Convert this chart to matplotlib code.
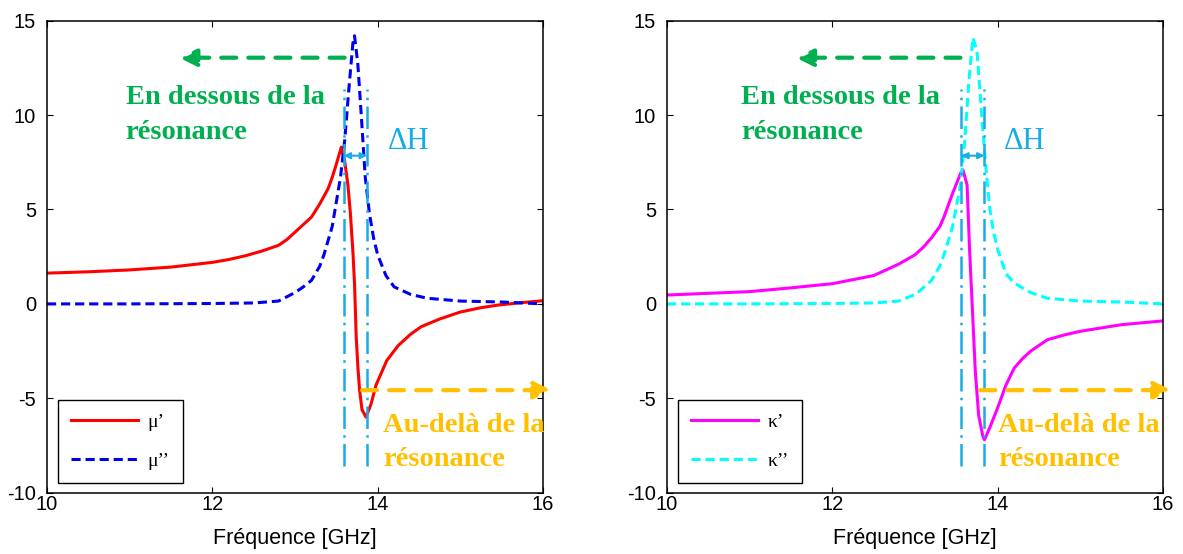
import numpy as np
import matplotlib
matplotlib.use('Agg')
import matplotlib.pyplot as plt

f_mu1 = [10, 10.5, 11, 11.5, 12, 12.2, 12.4, 12.6, 12.8, 12.9, 13.0, 13.1, 13.2, 13.3, 13.4, 13.45,
         13.5, 13.56, 13.6, 13.64, 13.67, 13.7, 13.72, 13.74, 13.76, 13.78, 13.81, 13.86, 13.92,
         13.98, 14.05, 14.11, 14.18, 14.25, 14.4, 14.53, 14.75, 15.0, 15.25, 15.46, 15.7, 16.0]
mu1 = [1.63, 1.7, 1.8, 1.95, 2.2, 2.35, 2.55, 2.8, 3.1, 3.4, 3.8, 4.2, 4.6, 5.3, 6.1, 6.7,
       7.4, 8.3, 7.6, 6.3, 4.8, 2.8, 1.1, -1.7, -3.3, -4.5, -5.6, -6.0, -5.3,
       -4.3, -3.6, -3.0, -2.6, -2.2, -1.6, -1.2, -0.8, -0.43, -0.2, -0.06, 0.05, 0.17]

f_mu2 = [10, 11, 12, 12.5, 12.8, 13.0, 13.1, 13.2, 13.3, 13.35, 13.45, 13.55, 13.6, 13.65, 13.7,
         13.72, 13.76, 13.8, 13.85, 13.9, 13.95, 14.0, 14.1, 14.2, 14.4, 14.6, 15.0, 15.5, 16.0]
mu2 = [0, 0, 0.02, 0.05, 0.15, 0.6, 0.9, 1.25, 2.0, 2.6, 4.1, 6.7, 8.6, 11.3, 13.8,
       14.2, 12.7, 10.1, 6.7, 4.8, 3.5, 2.6, 1.5, 0.9, 0.5, 0.3, 0.15, 0.1, 0.0]

f_k1 = [10, 11, 11.5, 12, 12.5, 12.8, 13.0, 13.1, 13.2, 13.3, 13.35, 13.45, 13.55, 13.58, 13.63,
        13.66, 13.7, 13.73, 13.77, 13.82, 13.84, 13.9, 14.0, 14.1, 14.2, 14.3, 14.4, 14.6, 14.8,
        15.0, 15.5, 16.0]
k1 = [0.47, 0.65, 0.85, 1.07, 1.5, 2.1, 2.6, 3.0, 3.5, 4.1, 4.6, 5.8, 6.9, 7.1, 6.3,
      2.9, -0.8, -3.6, -5.9, -7.0, -7.2, -6.6, -5.5, -4.3, -3.4, -2.9, -2.5, -1.9, -1.65,
      -1.45, -1.1, -0.9]

f_k2 = [10, 11, 12, 12.5, 12.8, 13.0, 13.1, 13.2, 13.3, 13.35, 13.45, 13.55, 13.6, 13.65, 13.7,
        13.75, 13.8, 13.85, 13.9, 13.95, 14.0, 14.1, 14.2, 14.4, 14.6, 15.0, 15.5, 16.0]
k2 = [0, 0, 0.02, 0.05, 0.15, 0.5, 0.85, 1.25, 2.0, 2.6, 4.0, 6.3, 8.5, 11.7, 14.1,
      13.4, 10.4, 7.6, 5.2, 3.8, 2.9, 1.6, 1.1, 0.6, 0.3, 0.15, 0.1, 0.0]

panels = [
    dict(f1=f_mu1, y1=mu1, f2=f_mu2, y2=mu2, c1='#FF0000', c2='#0000EE',
         lab1='\u03bc\u2019', lab2='\u03bc\u2019\u2019', vl=(13.59, 13.87),
         dh_x=14.37, green=(13.6, 11.6), txt_g=10.95, orange=(13.81, 16.1), txt_o=14.07),
    dict(f1=f_k1, y1=k1, f2=f_k2, y2=k2, c1='#FF00FF', c2='#00FFFF',
         lab1='\u03ba\u2019', lab2='\u03ba\u2019\u2019', vl=(13.56, 13.84),
         dh_x=14.33, green=(13.55, 11.56), txt_g=10.9, orange=(13.79, 16.1), txt_o=14.01),
]

blue_l = '#1AACE6'
green = '#00B050'
orange = '#FFC000'
serif = 'Liberation Serif'

plt.rcParams['font.family'] = 'Liberation Sans'
plt.rcParams['axes.unicode_minus'] = False
fig = plt.figure(figsize=(11.83, 5.54), dpi=100)
lefts = [47/1183, 667/1183]

for p, left in zip(panels, lefts):
    ax = fig.add_axes([left, 1 - 492.7/554, 496/1183, 472/554])
    l1, = ax.plot(p['f1'], p['y1'], color=p['c1'], lw=2.2, label=p['lab1'])
    l2, = ax.plot(p['f2'], p['y2'], color=p['c2'], lw=2.2, ls=(0, (3, 1.6)), label=p['lab2'])
    for xv in p['vl']:
        ax.plot([xv, xv], [-8.6, 11.4], color=blue_l, lw=1.8, ls=(0, (9, 2.5, 1, 2.5)))
    ax.annotate('', xy=(p['vl'][0], 7.85), xytext=(p['vl'][1], 7.85),
                arrowprops=dict(arrowstyle='<|-|>', color=blue_l, lw=1.5,
                                mutation_scale=9, shrinkA=0, shrinkB=0))
    ax.text(p['dh_x'], 8.6, '\u0394H', color=blue_l, fontsize=22, family=serif,
            ha='center', va='center')
    # below resonance
    ax.annotate('', xy=(p['green'][1], 13.04), xytext=(p['green'][0], 13.04),
                arrowprops=dict(arrowstyle='-|>', color=green, lw=3, ls=(0, (3.6, 2.9)),
                                mutation_scale=26, shrinkA=0, shrinkB=0))
    ax.text(p['txt_g'], 10.0, 'En dessous de la\nr\u00e9sonance', color=green, fontsize=20.5,
            family=serif, weight='bold', ha='left', va='center', linespacing=1.5)
    # above resonance
    ax.annotate('', xy=(p['orange'][1], -4.57), xytext=(p['orange'][0], -4.57),
                arrowprops=dict(arrowstyle='-|>', color=orange, lw=3, ls=(0, (3.6, 2.9)),
                                mutation_scale=26, shrinkA=0, shrinkB=0),
                annotation_clip=False)
    ax.text(p['txt_o'], -7.35, 'Au-del\u00e0 de la\nr\u00e9sonance', color=orange, fontsize=20.5,
            family=serif, weight='bold', ha='left', va='center', linespacing=1.5)

    ax.set_xlim(10, 16)
    ax.set_ylim(-10, 15)
    ax.set_xticks([10, 12, 14, 16])
    ax.set_yticks([-10, -5, 0, 5, 10, 15])
    ax.tick_params(direction='in', top=True, right=True, labelsize=14.5, length=4)
    ax.tick_params(axis='y', pad=8)
    ax.tick_params(axis='x', pad=2)
    ax.set_xlabel('Fr\u00e9quence [GHz]', fontsize=15.5, labelpad=10)
    for s in ax.spines.values():
        s.set_linewidth(1.1)
    leg = ax.legend(handles=[l1, l2], loc='lower left', bbox_to_anchor=(0.022, 0.02),
                    fancybox=False, edgecolor='black', framealpha=1, handlelength=3.45,
                    handletextpad=0.5, borderpad=0.67, labelspacing=1.12,
                    borderaxespad=0, prop=dict(family=serif, size=14))
    leg.get_frame().set_linewidth(1.0)

fig.savefig('out.png', dpi=100)
